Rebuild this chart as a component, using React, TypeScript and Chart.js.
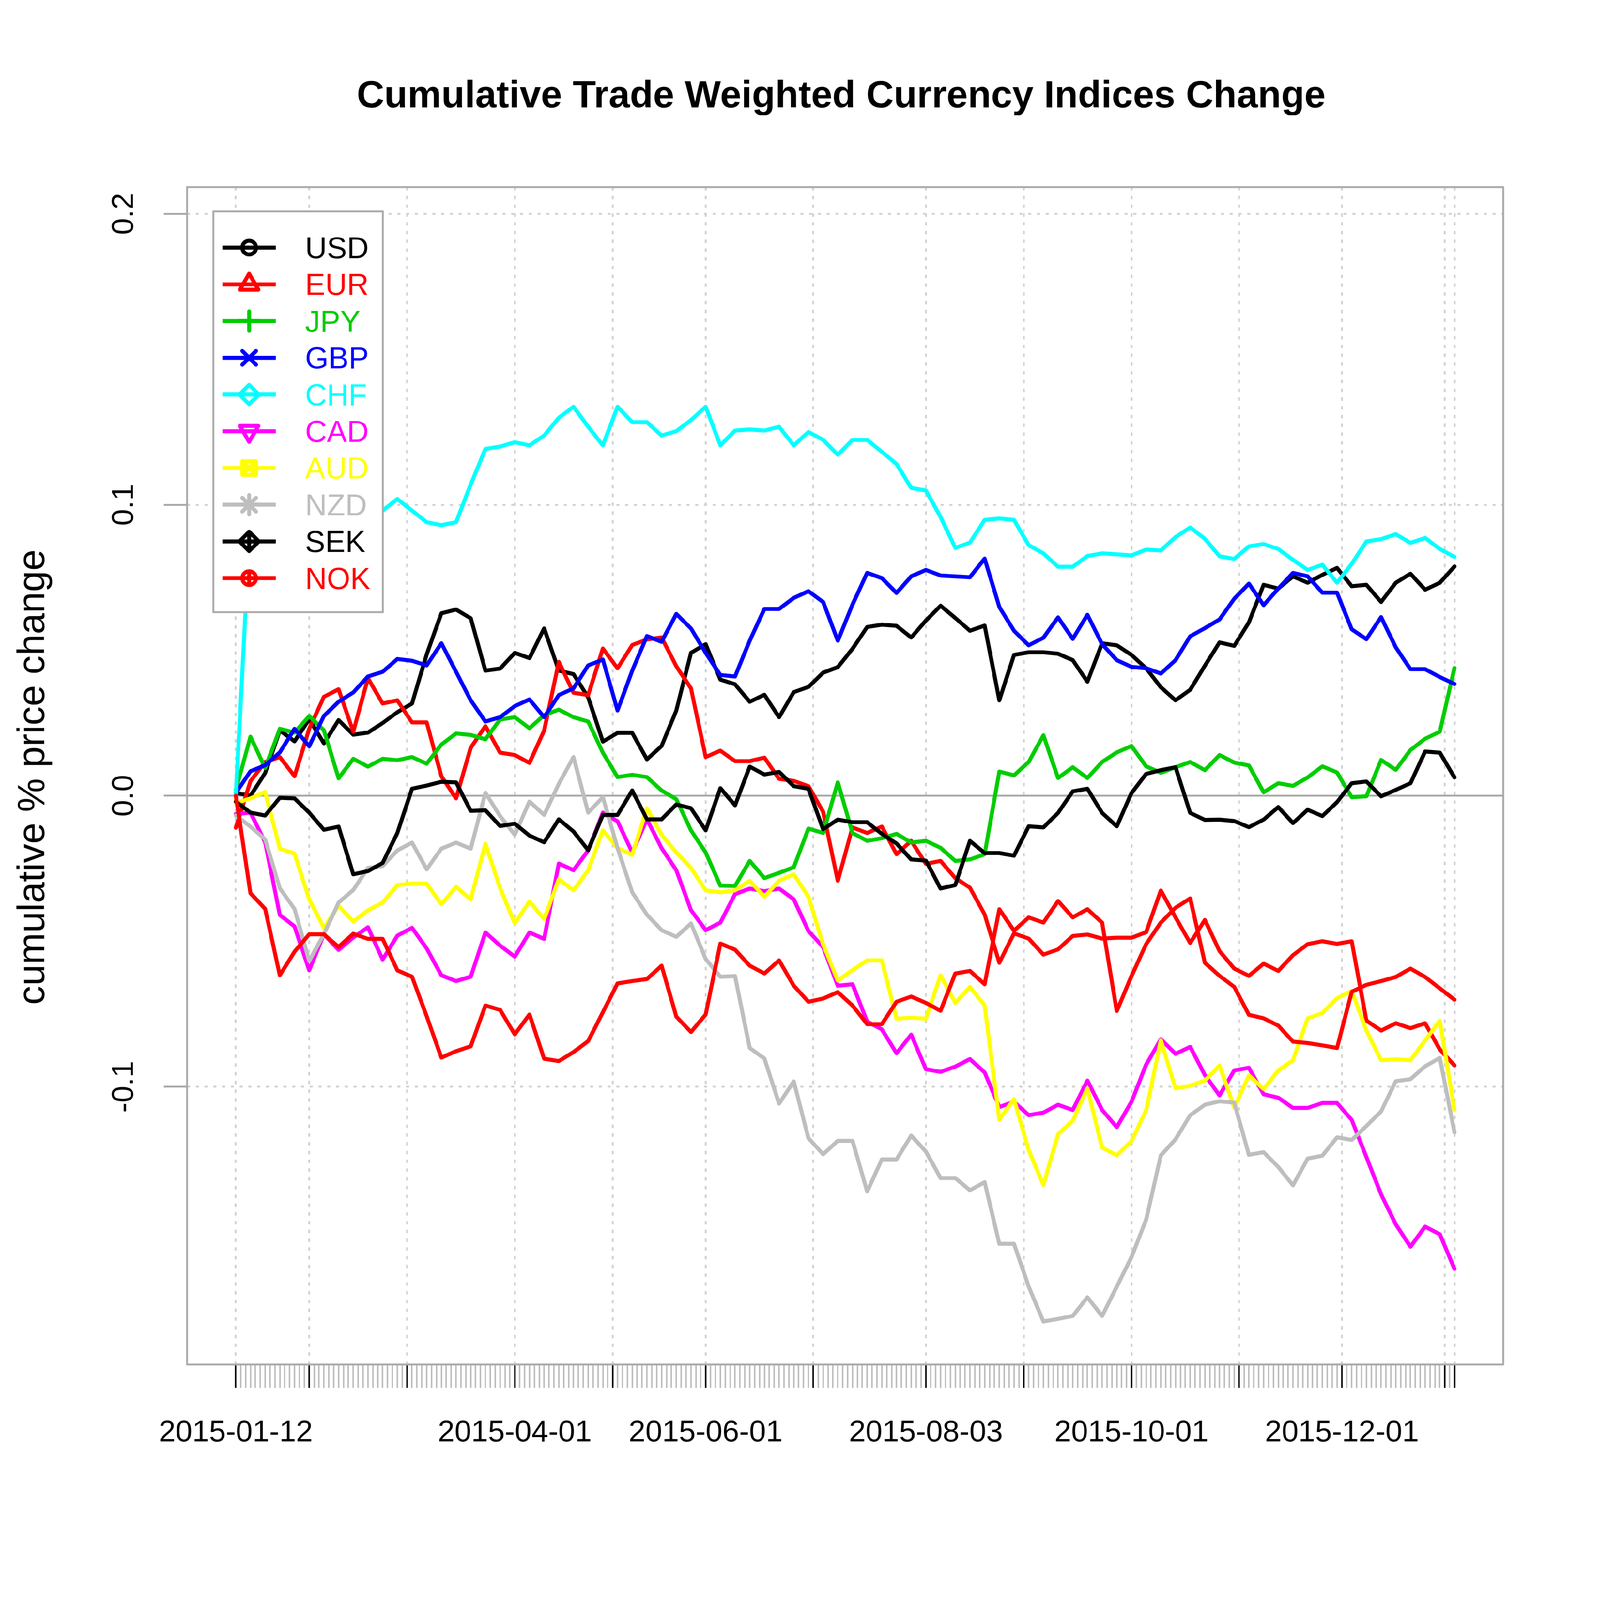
import { useEffect, useRef } from "react";
import { Chart, registerables, type Plugin } from "chart.js";

Chart.register(...registerables);

// ── Page geometry (px on the 4200 canvas) ─────────────────────────────────────
const CANVAS = 4200;
const PLOT_LEFT = 491;
const PLOT_TOP = 491;
const PLOT_RIGHT = 3946;
const PLOT_BOTTOM = 3582;
const FONT = "'Liberation Sans', Arial, sans-serif";

// ── Axes ──────────────────────────────────────────────────────────────────────
// x = observation number (trading day), 0 = 2015-01-12, 249 = last day of 2015
const N_OBS = 250;
const STEP = 3;
const X_MIN = -9.96;
const X_MAX = 258.96;
const Y_MIN = -0.1955;
const Y_MAX = 0.2092;

const MONTH_TICKS = [0, 15, 35, 57, 77, 96, 118, 141, 161, 183, 205, 226, 247, 249];
const MONTH_LABELS = ["2015-01-12", "", "", "2015-04-01", "", "2015-06-01", "", "2015-08-03", "", "2015-10-01", "", "2015-12-01", "", ""];
const Y_TICKS = [-0.1, 0, 0.1, 0.2];
const Y_LABELS = ["-0.1", "0.0", "0.1", "0.2"];

// ── Series (cumulative change, one value per 3 trading days) ──────────────────
const USD = [
  0.001, 0.0, 0.0078, 0.0225, 0.0187, 0.0263, 0.018, 0.026, 0.021, 0.0217, 0.025, 0.0287, 0.0317, 0.0486, 0.0627, 0.064, 0.061,
  0.043, 0.0437, 0.0491, 0.0473, 0.0575, 0.043, 0.0418, 0.0338, 0.0186, 0.0216, 0.0216, 0.0125, 0.0171, 0.0293, 0.0491, 0.0521, 0.0399,
  0.0383, 0.0323, 0.0347, 0.027, 0.0356, 0.0374, 0.0423, 0.0442, 0.0505, 0.058, 0.0588, 0.0584, 0.0544, 0.0602, 0.0653, 0.0611,
  0.0567, 0.0585, 0.0328, 0.0484, 0.0493, 0.0493, 0.0488, 0.0466, 0.0392, 0.0524, 0.0517, 0.0484, 0.0438, 0.0373, 0.0328, 0.0364, 0.0447,
  0.0527, 0.0515, 0.0596, 0.0725, 0.0712, 0.0754, 0.0732, 0.0759, 0.0783, 0.072, 0.0725, 0.0666, 0.0732, 0.0763, 0.0708, 0.0732, 0.0788,
];
const EUR = [
  -0.011, 0.005, 0.0116, 0.0133, 0.0067, 0.023, 0.034, 0.0366, 0.022, 0.0404, 0.0317, 0.0328, 0.0252, 0.0252, 0.0067, -0.0009, 0.0165,
  0.0239, 0.0148, 0.014, 0.0113, 0.0224, 0.046, 0.0354, 0.0346, 0.0506, 0.0438, 0.0518, 0.0537, 0.0544, 0.0445, 0.0369, 0.0133, 0.0155,
  0.0119, 0.0119, 0.0131, 0.0058, 0.0051, 0.0033, -0.0055, -0.0292, -0.0109, -0.0128, -0.0106, -0.0201, -0.0155, -0.0234, -0.0224, -0.0283,
  -0.0316, -0.0408, -0.0574, -0.0473, -0.0491, -0.0546, -0.0528, -0.0482, -0.0477, -0.0491, -0.0488, -0.0488, -0.0469, -0.0326, -0.0418, -0.0506, -0.0427,
  -0.0534, -0.0594, -0.0619, -0.0577, -0.0602, -0.0548, -0.051, -0.05, -0.0509, -0.05, -0.0773, -0.0807, -0.0782, -0.0799, -0.0782, -0.0872, -0.0927,
];
const JPY = [
  0.002, 0.0203, 0.0095, 0.023, 0.0217, 0.0274, 0.0225, 0.006, 0.0127, 0.01, 0.0127, 0.0122, 0.0133, 0.011, 0.0176, 0.0214, 0.0209,
  0.0194, 0.0262, 0.027, 0.0232, 0.0277, 0.0296, 0.027, 0.0255, 0.0148, 0.0064, 0.0072, 0.0064, 0.0018, -0.0012, -0.0119, -0.0195, -0.0309,
  -0.031, -0.0224, -0.0283, -0.0265, -0.0246, -0.0113, -0.0128, 0.0046, -0.0128, -0.0155, -0.0146, -0.0131, -0.0161, -0.0155, -0.0179, -0.0224,
  -0.0219, -0.0201, 0.0083, 0.007, 0.0116, 0.0208, 0.0061, 0.0098, 0.0061, 0.0116, 0.0149, 0.0171, 0.0101, 0.0079, 0.0098, 0.0116, 0.0088,
  0.014, 0.0114, 0.0104, 0.0012, 0.0043, 0.0034, 0.0063, 0.0101, 0.008, -0.0005, -0.0002, 0.0123, 0.0089, 0.0157, 0.0196, 0.022, 0.0439,
];
const GBP = [
  0.001, 0.0084, 0.0105, 0.0149, 0.023, 0.017, 0.0274, 0.0323, 0.0355, 0.041, 0.0426, 0.047, 0.0464, 0.0448, 0.0524, 0.0426, 0.0328,
  0.0255, 0.027, 0.0308, 0.0331, 0.027, 0.0346, 0.0369, 0.0448, 0.0468, 0.0293, 0.043, 0.0549, 0.0529, 0.0625, 0.0575, 0.0491, 0.0415,
  0.041, 0.0533, 0.0642, 0.0642, 0.068, 0.0703, 0.0666, 0.0533, 0.0657, 0.0766, 0.0748, 0.0697, 0.0754, 0.0776, 0.0757, 0.0754,
  0.0751, 0.0815, 0.0649, 0.0567, 0.0517, 0.0543, 0.0613, 0.0539, 0.0622, 0.0521, 0.0466, 0.0443, 0.0438, 0.042, 0.0466, 0.0548, 0.0576,
  0.0606, 0.0677, 0.0729, 0.0655, 0.0712, 0.0766, 0.0754, 0.0698, 0.0698, 0.0572, 0.0538, 0.0614, 0.051, 0.0435, 0.0435, 0.0408, 0.0384,
];
const CHF = [
  0.0, 0.096, 0.1, 0.098, 0.101, 0.097, 0.099, 0.102, 0.1, 0.097, 0.098, 0.102, 0.098, 0.094, 0.093, 0.094, 0.107,
  0.1192, 0.12, 0.1215, 0.1204, 0.1238, 0.1299, 0.1337, 0.1268, 0.1204, 0.1337, 0.1284, 0.1284, 0.1238, 0.1253, 0.1291, 0.1337, 0.1204,
  0.1255, 0.1259, 0.1255, 0.1268, 0.1204, 0.125, 0.1223, 0.1172, 0.1223, 0.1223, 0.1182, 0.114, 0.1058, 0.1049, 0.0958, 0.0852,
  0.087, 0.0948, 0.0953, 0.0948, 0.0861, 0.0833, 0.0787, 0.0787, 0.0824, 0.0833, 0.083, 0.0826, 0.0846, 0.0843, 0.0889, 0.0922, 0.0883,
  0.0823, 0.0814, 0.0857, 0.0865, 0.0848, 0.0811, 0.0776, 0.0794, 0.0732, 0.0797, 0.0874, 0.0882, 0.0899, 0.0869, 0.0886, 0.0848, 0.0821,
];
const CAD = [
  -0.0063, -0.0058, -0.016, -0.041, -0.0449, -0.06, -0.0476, -0.053, -0.0487, -0.0452, -0.0563, -0.0481, -0.0454, -0.0525, -0.0617, -0.0637, -0.0622,
  -0.047, -0.0515, -0.0553, -0.047, -0.0492, -0.0233, -0.0256, -0.0188, -0.0058, -0.0088, -0.0195, -0.0081, -0.018, -0.0256, -0.0393, -0.0462, -0.0436,
  -0.0338, -0.0319, -0.0328, -0.0319, -0.0356, -0.0465, -0.052, -0.0653, -0.0648, -0.0776, -0.0803, -0.0885, -0.0821, -0.094, -0.0949, -0.0931,
  -0.0905, -0.0951, -0.107, -0.1052, -0.1098, -0.1089, -0.1062, -0.108, -0.0979, -0.108, -0.1139, -0.1052, -0.0924, -0.0837, -0.0887, -0.0863, -0.096,
  -0.103, -0.0944, -0.0935, -0.1026, -0.1038, -0.1073, -0.1073, -0.1056, -0.1056, -0.1114, -0.1242, -0.137, -0.1473, -0.155, -0.1481, -0.1507, -0.1626,
];
const AUD = [
  -0.0025, -0.0009, 0.0013, -0.0182, -0.0199, -0.0356, -0.0454, -0.0378, -0.0432, -0.0394, -0.0367, -0.0307, -0.0302, -0.0302, -0.0373, -0.0313, -0.0356,
  -0.0165, -0.0317, -0.0439, -0.0363, -0.0424, -0.0287, -0.0325, -0.0256, -0.0119, -0.018, -0.0203, -0.0043, -0.0134, -0.0195, -0.0248, -0.0325, -0.0332,
  -0.0325, -0.0292, -0.0347, -0.0292, -0.027, -0.0347, -0.0511, -0.0635, -0.0599, -0.0566, -0.0566, -0.0766, -0.0763, -0.0766, -0.0617, -0.0712,
  -0.0657, -0.0721, -0.1113, -0.1043, -0.1218, -0.1338, -0.1163, -0.1117, -0.1006, -0.1209, -0.1236, -0.1187, -0.1081, -0.0841, -0.1006, -0.0997, -0.0979,
  -0.0927, -0.1072, -0.0961, -0.1008, -0.0944, -0.0909, -0.0765, -0.0747, -0.0696, -0.0671, -0.0807, -0.0909, -0.0906, -0.0909, -0.0841, -0.0773, -0.108,
];
const NZD = [
  -0.0068, -0.0106, -0.015, -0.0318, -0.0389, -0.0568, -0.0476, -0.0367, -0.0324, -0.0248, -0.0242, -0.0188, -0.0161, -0.0253, -0.0182, -0.0161, -0.0182,
  0.001, -0.007, -0.0134, -0.002, -0.0066, 0.0041, 0.0133, -0.0058, -0.0005, -0.018, -0.0332, -0.0409, -0.0462, -0.0485, -0.0439, -0.0561, -0.0622,
  -0.062, -0.0867, -0.0903, -0.1058, -0.0982, -0.1177, -0.1232, -0.1186, -0.1186, -0.136, -0.125, -0.125, -0.1168, -0.1223, -0.1314, -0.1314,
  -0.1356, -0.1328, -0.154, -0.154, -0.1687, -0.1807, -0.1798, -0.1788, -0.1724, -0.1788, -0.1687, -0.1586, -0.1457, -0.1236, -0.1181, -0.1098, -0.1062,
  -0.105, -0.1055, -0.1234, -0.1225, -0.1276, -0.1339, -0.1247, -0.1237, -0.1174, -0.1183, -0.1135, -0.1085, -0.0981, -0.0974, -0.093, -0.0901, -0.1157,
];
const SEK = [
  -0.002, -0.0058, -0.0068, -0.0007, -0.0009, -0.0058, -0.0117, -0.0106, -0.027, -0.0259, -0.0231, -0.0128, 0.0024, 0.0035, 0.0048, 0.0046, -0.0052,
  -0.005, -0.0104, -0.0096, -0.0137, -0.016, -0.0081, -0.0123, -0.0187, -0.0066, -0.0066, 0.0018, -0.0081, -0.0081, -0.003, -0.0043, -0.0119, 0.0026,
  -0.0033, 0.01, 0.0073, 0.0082, 0.0033, 0.0024, -0.0115, -0.0082, -0.0091, -0.0091, -0.0131, -0.0164, -0.0219, -0.0223, -0.0319, -0.0307,
  -0.0155, -0.0197, -0.0197, -0.0206, -0.0105, -0.0109, -0.0059, 0.0015, 0.0024, -0.0059, -0.0105, 0.0009, 0.0075, 0.0088, 0.0098, -0.0059, -0.0083,
  -0.0082, -0.0087, -0.0108, -0.0082, -0.0039, -0.0094, -0.0048, -0.007, -0.0022, 0.0043, 0.0049, -0.0002, 0.002, 0.0043, 0.0152, 0.0148, 0.0063,
];
const NOK = [
  0.0, -0.0335, -0.0389, -0.0617, -0.0536, -0.0476, -0.0476, -0.052, -0.0474, -0.0492, -0.0492, -0.06, -0.0622, -0.0758, -0.09, -0.0878, -0.0861,
  -0.0721, -0.0736, -0.082, -0.0752, -0.0904, -0.0912, -0.0881, -0.0843, -0.0744, -0.0645, -0.0637, -0.063, -0.0584, -0.0759, -0.0812, -0.0752, -0.0508,
  -0.0529, -0.0584, -0.0611, -0.0566, -0.0653, -0.0708, -0.0697, -0.0675, -0.0721, -0.0785, -0.0785, -0.0708, -0.069, -0.0712, -0.0739, -0.0611,
  -0.0602, -0.0648, -0.039, -0.0464, -0.0418, -0.0436, -0.0362, -0.0418, -0.039, -0.0436, -0.074, -0.062, -0.051, -0.0436, -0.0385, -0.0353, -0.0574,
  -0.0619, -0.0657, -0.0753, -0.0765, -0.079, -0.0845, -0.085, -0.0858, -0.0867, -0.0674, -0.065, -0.0637, -0.0623, -0.0594, -0.0623, -0.0662, -0.0701,
];

type Sym = "circle" | "triangle" | "plus" | "cross" | "diamond" | "triangleDown" | "squareCross" | "asterisk" | "diamondPlus" | "circlePlus";

// R palette order, pch 1..10
const SERIES: Array<{ name: string; values: number[]; color: string; sym: Sym }> = [
  { name: "USD", values: USD, color: "#000000", sym: "circle" },
  { name: "EUR", values: EUR, color: "#FF0000", sym: "triangle" },
  { name: "JPY", values: JPY, color: "#00CD00", sym: "plus" },
  { name: "GBP", values: GBP, color: "#0000FF", sym: "cross" },
  { name: "CHF", values: CHF, color: "#00FFFF", sym: "diamond" },
  { name: "CAD", values: CAD, color: "#FF00FF", sym: "triangleDown" },
  { name: "AUD", values: AUD, color: "#FFFF00", sym: "squareCross" },
  { name: "NZD", values: NZD, color: "#BEBEBE", sym: "asterisk" },
  { name: "SEK", values: SEK, color: "#000000", sym: "diamondPlus" },
  { name: "NOK", values: NOK, color: "#FF0000", sym: "circlePlus" },
];

const LINE_W = 10.5;
const FRAME = "#aaaaaa";
const GRID = "#d3d3d3";

// ── Legend symbols (R pch shapes) ─────────────────────────────────────────────
function drawSymbol(ctx: CanvasRenderingContext2D, sym: Sym, x: number, y: number, s: number) {
  const q = Math.SQRT2 * s;
  const plus = (h: number) => { ctx.moveTo(x - h, y); ctx.lineTo(x + h, y); ctx.moveTo(x, y - h); ctx.lineTo(x, y + h); };
  const cross = (h: number) => { ctx.moveTo(x - h, y - h); ctx.lineTo(x + h, y + h); ctx.moveTo(x - h, y + h); ctx.lineTo(x + h, y - h); };
  const diamond = (h: number) => { ctx.moveTo(x, y - h); ctx.lineTo(x + h, y); ctx.lineTo(x, y + h); ctx.lineTo(x - h, y); ctx.closePath(); };
  ctx.beginPath();
  switch (sym) {
    case "circle": ctx.arc(x, y, s, 0, Math.PI * 2); break;
    case "triangle":
      ctx.moveTo(x, y - 1.555 * s); ctx.lineTo(x + 1.347 * s, y + 0.778 * s); ctx.lineTo(x - 1.347 * s, y + 0.778 * s); ctx.closePath();
      break;
    case "triangleDown":
      ctx.moveTo(x, y + 1.555 * s); ctx.lineTo(x + 1.347 * s, y - 0.778 * s); ctx.lineTo(x - 1.347 * s, y - 0.778 * s); ctx.closePath();
      break;
    case "plus": plus(q); break;
    case "cross": cross(s); break;
    case "diamond": diamond(q); break;
    case "squareCross": ctx.rect(x - s, y - s, 2 * s, 2 * s); cross(s); break;
    case "asterisk": cross(s); plus(q); break;
    case "diamondPlus": diamond(q); plus(q); break;
    case "circlePlus": ctx.arc(x, y, s, 0, Math.PI * 2); plus(s); break;
  }
  ctx.stroke();
}

// ── Decorations: zero line, frame, legend, title, axis texts ──────────────────
const decorPlugin: Plugin = {
  id: "decor",
  beforeDatasetsDraw(chart) {
    const { ctx, chartArea, scales } = chart;
    const y0 = scales.y.getPixelForValue(0);
    ctx.save();
    ctx.strokeStyle = FRAME;
    ctx.lineWidth = 5;
    ctx.beginPath();
    ctx.moveTo(chartArea.left, y0);
    ctx.lineTo(chartArea.right, y0);
    ctx.stroke();
    ctx.restore();
  },
  afterDatasetsDraw(chart) {
    const { ctx, chartArea } = chart;
    ctx.save();
    ctx.lineJoin = "round";
    ctx.lineCap = "round";

    // plot frame
    ctx.strokeStyle = FRAME;
    ctx.lineWidth = 5;
    ctx.strokeRect(chartArea.left, chartArea.top, chartArea.right - chartArea.left, chartArea.bottom - chartArea.top);

    // legend box (top-left, white background)
    const bx = 560, by = 555, bw = 445, bh = 1052;
    ctx.fillStyle = "#ffffff";
    ctx.fillRect(bx, by, bw, bh);
    ctx.strokeRect(bx, by, bw, bh);

    ctx.font = `79px ${FONT}`;
    ctx.textAlign = "left";
    ctx.textBaseline = "alphabetic";
    SERIES.forEach((s, i) => {
      const y = 650 + i * 96.4;
      ctx.strokeStyle = s.color;
      ctx.lineWidth = LINE_W;
      ctx.lineCap = "butt";
      ctx.beginPath();
      ctx.moveTo(584, y);
      ctx.lineTo(724, y);
      ctx.stroke();
      ctx.lineCap = "round";
      drawSymbol(ctx, s.sym, 654, y, 18);
      ctx.fillStyle = s.color;
      ctx.fillText(s.name, 801, y + 28);
    });
    ctx.restore();
  },
  afterDraw(chart) {
    const { ctx, scales } = chart;
    ctx.save();
    ctx.fillStyle = "#000000";

    // title
    ctx.font = `bold 100px ${FONT}`;
    ctx.textAlign = "center";
    ctx.textBaseline = "alphabetic";
    ctx.fillText("Cumulative Trade Weighted Currency Indices Change", 2208, 282);

    // y axis title
    ctx.save();
    ctx.translate(116, 2040);
    ctx.rotate(-Math.PI / 2);
    ctx.font = `100px ${FONT}`;
    ctx.fillText("cumulative % price change", 0, 0);
    ctx.restore();

    // y tick labels (rotated like R's default las = 0)
    ctx.font = `79px ${FONT}`;
    Y_TICKS.forEach((v, i) => {
      const py = scales.y.getPixelForValue(v);
      ctx.save();
      ctx.translate(349, py);
      ctx.rotate(-Math.PI / 2);
      ctx.fillText(Y_LABELS[i], 0, 0);
      ctx.restore();
    });
    ctx.restore();
  },
};

const SAMPLE_X = USD.map((_, k) => Math.min(k * STEP, N_OBS - 1));
const OBS_TICKS = Array.from({ length: N_OBS }, (_, i) => i);

export default function App() {
  const canvasRef = useRef<HTMLCanvasElement>(null);

  // fit the 4200px drawing into the actual viewport
  const fit = typeof window === "undefined"
    ? 1
    : Math.min(1, Math.min(window.innerWidth, window.innerHeight) / CANVAS);

  useEffect(() => {
    const canvas = canvasRef.current;
    if (!canvas) return;

    const chart = new Chart(canvas, {
      type: "line",
      plugins: [decorPlugin],
      data: {
        datasets: SERIES.map((s, i) => ({
          label: s.name,
          data: s.values.map((v, k) => ({ x: SAMPLE_X[k], y: v })),
          borderColor: s.color,
          backgroundColor: s.color,
          borderWidth: LINE_W,
          borderJoinStyle: "round" as const,
          borderCapStyle: "round" as const,
          pointRadius: 0,
          tension: 0,
          fill: false,
          order: SERIES.length - 1 - i, // later series drawn on top, as in R
        })),
      },
      options: {
        animation: false,
        responsive: true,
        maintainAspectRatio: false,
        devicePixelRatio: 1,
        events: [],
        layout: { padding: { left: 0, top: PLOT_TOP, right: CANVAS - PLOT_RIGHT, bottom: 0 } },
        plugins: {
          legend: { display: false },
          title: { display: false },
          tooltip: { enabled: false },
        },
        scales: {
          x: {
            type: "linear",
            min: X_MIN,
            max: X_MAX,
            afterBuildTicks: (scale: any) => { scale.ticks = OBS_TICKS.map((v) => ({ value: v })); },
            afterFit: (scale: any) => { scale.height = CANVAS - PLOT_BOTTOM; },
            grid: {
              color: GRID,
              lineWidth: (c: any) => (MONTH_TICKS.includes(c.tick?.value) ? 5 : 0),
              drawTicks: true,
              tickLength: 61,
              tickWidth: 4,
              tickColor: (c: any) => (MONTH_TICKS.includes(c.tick?.value) ? "#000000" : "#bebebe"),
            },
            border: { display: false, dash: [9, 14] },
            ticks: {
              autoSkip: false,
              maxRotation: 0,
              minRotation: 0,
              padding: 72,
              color: "#000000",
              font: { family: FONT, size: 79 },
              callback: (v: any) => {
                const i = MONTH_TICKS.indexOf(Number(v));
                return i >= 0 ? MONTH_LABELS[i] : "";
              },
            },
          },
          y: {
            type: "linear",
            min: Y_MIN,
            max: Y_MAX,
            afterBuildTicks: (scale: any) => { scale.ticks = Y_TICKS.map((v) => ({ value: v })); },
            afterFit: (scale: any) => { scale.width = PLOT_LEFT; },
            grid: {
              color: (c: any) => (c.tick?.value === 0 ? "rgba(0,0,0,0)" : GRID),
              lineWidth: 5,
              drawTicks: true,
              tickLength: 61,
              tickWidth: 5,
              tickColor: FRAME,
            },
            border: { display: false, dash: [8, 15] },
            ticks: { display: false },
          },
        },
      },
    });

    return () => { chart.destroy(); };
  }, []);

  return (
    <div
      style={{
        position: "fixed", left: 0, top: 0, width: CANVAS, height: CANVAS, background: "#ffffff",
        transform: `scale(${fit})`, transformOrigin: "0 0",
      }}
    >
      <canvas ref={canvasRef} style={{ display: "block" }} />
    </div>
  );
}
